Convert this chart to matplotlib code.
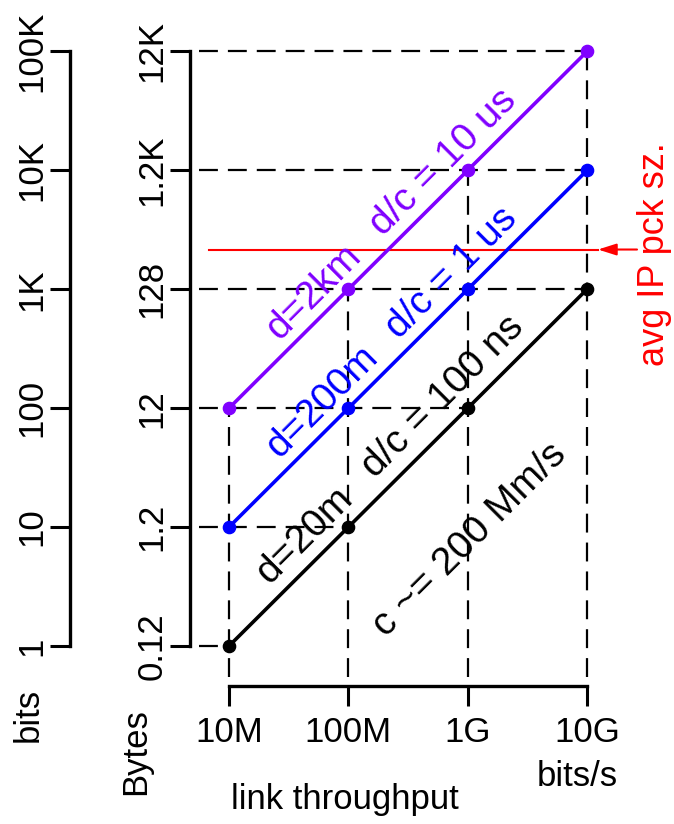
import matplotlib

matplotlib.use('Agg')
import matplotlib.pyplot as plt
from matplotlib.ticker import FixedLocator, NullLocator

plt.rcParams['font.family'] = ['Liberation Sans', 'DejaVu Sans']

# link throughput (bits/s)
throughput = [1e7, 1e8, 1e9, 1e10]
throughput_labels = ['10M', '100M', '1G', '10G']

# bits in flight for each cable length
bits_20m = [1, 10, 100, 1000]
bits_200m = [10, 100, 1000, 10000]
bits_2km = [100, 1000, 10000, 100000]

level_bits = [1, 10, 100, 1000, 10000, 100000]
bits_labels = ['1', '10', '100', '1K', '10K', '100K']
bytes_labels = ['0.12', '1.2', '12', '128', '1.2K', '12K']

avg_ip_pkt_bits = 2160

W, H = 674, 824
fig = plt.figure(figsize=(W / 100, H / 100), dpi=100)
ax = fig.add_axes([0, 0, 1, 1])
ax.set_xscale('log')
ax.set_yscale('log')
ax.set_xlim(10 ** 5.081, 10 ** 10.729)
ax.set_ylim(10 ** -1.497, 10 ** 5.433)
ax.patch.set_visible(False)


def to_data(px, py):
    # figure pixel -> data coords
    return ax.transData.inverted().transform(ax.transAxes.transform((px / W, 1 - py / H)))


series = [
    (bits_20m, 'black', ['d=20m', 'd/c = 100 ns'], [(305, 535), (443, 397)]),
    (bits_200m, '#0000ff', ['d=200m', 'd/c = 1 us'], [(322, 402), (452, 273)]),
    (bits_2km, '#8000ff', ['d=2km', 'd/c = 10 us'], [(314, 292), (443, 162)]),
]

dash = (0, (8.5, 4.5))
x_left = to_data(199, 0)[0]
y_bottom = to_data(0, 677)[1]

# horizontal guides: axis -> rightmost point on that level
for lv in level_bits:
    xs = [x for s in series for x, v in zip(throughput, s[0]) if v == lv]
    ax.plot([x_left, max(xs)], [lv, lv], color='black', lw=1.6, ls=dash, zorder=1)

# vertical guides: top point -> bottom axis
for i, x in enumerate(throughput):
    top = max(s[0][i] for s in series)
    ax.plot([x, x], [y_bottom, top], color='black', lw=1.6, ls=dash, zorder=1)

for vals, col, labels, pos in series:
    ax.plot(throughput, vals, color=col, lw=2.6, marker='o', ms=8.8, zorder=3)
    for lab, (px, py) in zip(labels, pos):
        ax.text(px / W, 1 - py / H, lab, transform=ax.transAxes, color=col, fontsize=28,
                rotation=45, rotation_mode='anchor', ha='center', va='center')

ax.text(470 / W, 1 - 540 / H, 'c ~= 200 Mm/s', transform=ax.transAxes, fontsize=28,
        rotation=45, rotation_mode='anchor', ha='center', va='center')

# avg IP packet size marker
x_red0 = to_data(209, 0)[0]
x_tip = to_data(598, 0)[0]
x_tail = to_data(637, 0)[0]
ax.plot([x_red0, x_tip], [avg_ip_pkt_bits, avg_ip_pkt_bits], color='red', lw=1.5, zorder=2)
ax.annotate('', xy=(x_tip, avg_ip_pkt_bits), xytext=(x_tail, avg_ip_pkt_bits),
            arrowprops=dict(arrowstyle='-|>,head_length=1.1,head_width=0.35', color='red',
                            lw=1.5, shrinkA=0, shrinkB=0))
fig.text(655 / W, 1 - 254 / H, 'avg IP pck sz.', color='red', fontsize=26, rotation=90,
         ha='center', va='center')

# axes: bits (left), bottom throughput
for side in ['top', 'right']:
    ax.spines[side].set_visible(False)
ax.spines['left'].set_position(('axes', 70 / W))
ax.spines['left'].set_bounds(1, 1e5)
ax.spines['bottom'].set_position(('axes', (H - 686) / H))
ax.spines['bottom'].set_bounds(1e7, 1e10)
for side in ['left', 'bottom']:
    ax.spines[side].set_linewidth(2.4)

ax.xaxis.set_major_locator(FixedLocator(throughput))
ax.xaxis.set_minor_locator(NullLocator())
ax.set_xticklabels(throughput_labels)
ax.yaxis.set_major_locator(FixedLocator(level_bits))
ax.yaxis.set_minor_locator(NullLocator())
ax.set_yticklabels(bits_labels)
ax.tick_params(axis='both', direction='out', length=14.4, width=2.2, labelsize=25)
ax.tick_params(axis='x', pad=7)
ax.tick_params(axis='y', pad=1, labelrotation=90)
for lab in ax.get_yticklabels():
    lab.set_va('center')

# Bytes axis
ax2 = ax.twinx()
ax2.set_yscale('log')
ax2.set_ylim(ax.get_ylim())
for side in ['top', 'right', 'bottom']:
    ax2.spines[side].set_visible(False)
ax2.spines['left'].set_visible(True)
ax2.spines['left'].set_position(('axes', 190 / W))
ax2.spines['left'].set_bounds(1, 1e5)
ax2.spines['left'].set_linewidth(2.4)
ax2.yaxis.set_ticks_position('left')
ax2.yaxis.set_label_position('left')
ax2.yaxis.set_major_locator(FixedLocator(level_bits))
ax2.yaxis.set_minor_locator(NullLocator())
ax2.set_yticklabels(bytes_labels)
ax2.tick_params(axis='y', direction='out', length=14.4, width=2.2, labelsize=25, pad=1,
                labelrotation=90)
for lab in ax2.get_yticklabels():
    lab.set_va('center')

fig.text(28 / W, 1 - 715 / H, 'bits', fontsize=25, rotation=90, ha='center', va='center')
fig.text(136 / W, 1 - 752 / H, 'Bytes', fontsize=25, rotation=90, ha='center', va='center')
fig.text(345 / W, 1 - 800 / H, 'link throughput', fontsize=25, ha='center', va='center')
fig.text(577 / W, 1 - 777 / H, 'bits/s', fontsize=25, ha='center', va='center')

fig.savefig('out.png', dpi=100)
